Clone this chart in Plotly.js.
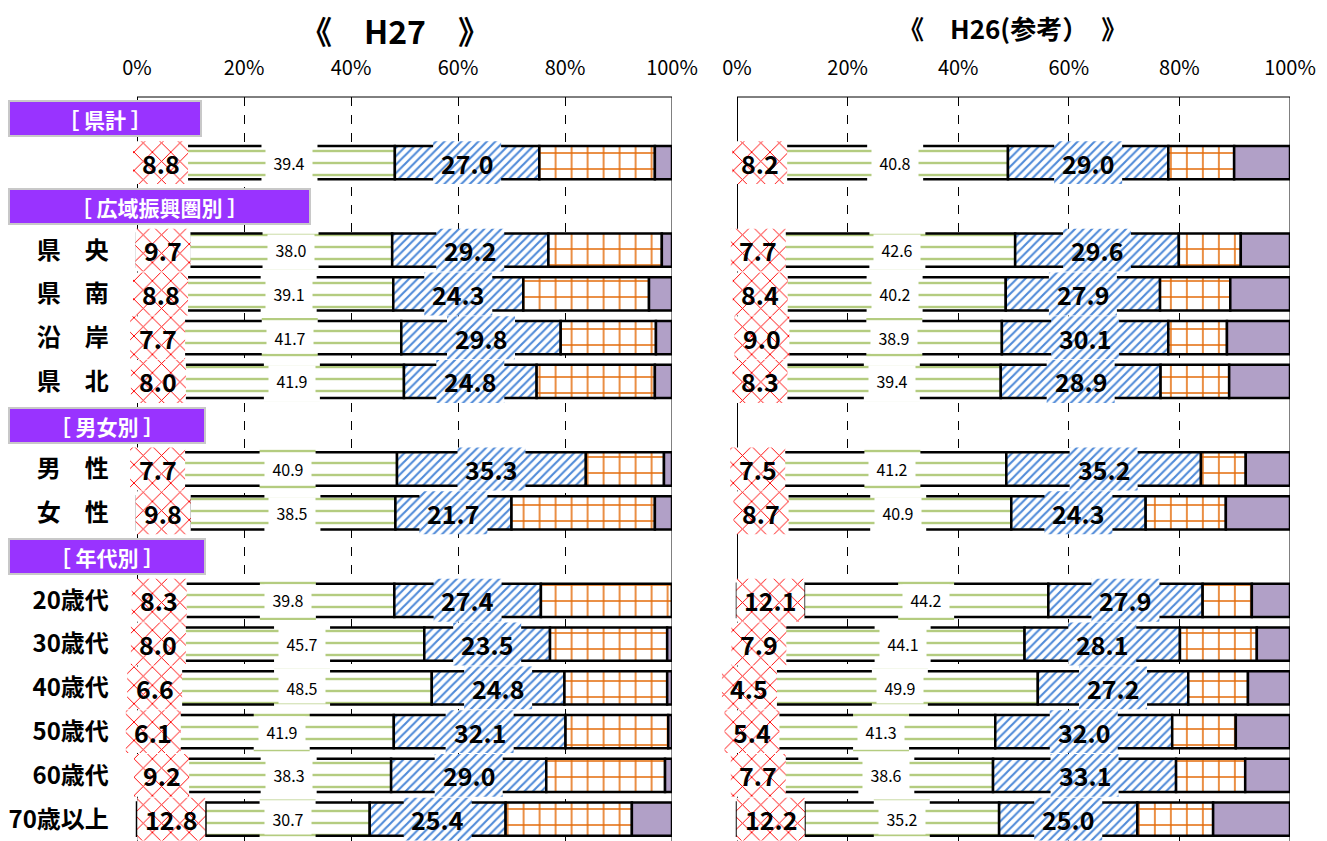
<!DOCTYPE html>
<html>
<head>
<meta charset="utf-8">
<script src="https://cdn.plot.ly/plotly-3.0.1.min.js"></script>
<style>
  body { margin: 0; background: #fff; }
  #chart { width: 1327px; height: 841px; }
</style>
</head>
<body>
<div id="chart"></div>
<script>
// row order (headers + data rows), top to bottom
const rows = ['［ 県計 ］', '県計', '［ 広域振興圏別 ］', '県　央', '県　南', '沿　岸', '県　北',
  '［ 男女別 ］', '男　性', '女　性', '［ 年代別 ］',
  '20歳代', '30歳代', '40歳代', '50歳代', '60歳代', '70歳以上'];
const headers = ['［ 県計 ］', '［ 広域振興圏別 ］', '［ 男女別 ］', '［ 年代別 ］'];
const dataRows = ['県計', '県　央', '県　南', '沿　岸', '県　北', '男　性', '女　性',
  '20歳代', '30歳代', '40歳代', '50歳代', '60歳代', '70歳以上'];
const tickRows = dataRows.slice(1);

// H27
const s1_27 = [8.8, 9.7, 8.8, 7.7, 8.0, 7.7, 9.8, 8.3, 8.0, 6.6, 6.1, 9.2, 12.8];
const s2_27 = [39.4, 38.0, 39.1, 41.7, 41.9, 40.9, 38.5, 39.8, 45.7, 48.5, 41.9, 38.3, 30.7];
const s3_27 = [27.0, 29.2, 24.3, 29.8, 24.8, 35.3, 21.7, 27.4, 23.5, 24.8, 32.1, 29.0, 25.4];
const s4_27 = [21.6, 21.2, 23.5, 17.8, 22.1, 14.6, 26.8, 24.5, 21.9, 19.2, 19.2, 22.2, 23.6];
const s5_27 = [3.2, 1.9, 4.3, 3.0, 3.2, 1.5, 3.2, 0.0, 0.9, 0.9, 0.7, 1.3, 7.5];

// H26 (参考)
const s1_26 = [8.2, 7.7, 8.4, 9.0, 8.3, 7.5, 8.7, 12.1, 7.9, 4.5, 5.4, 7.7, 12.2];
const s2_26 = [40.8, 42.6, 40.2, 38.9, 39.4, 41.2, 40.9, 44.2, 44.1, 49.9, 41.3, 38.6, 35.2];
const s3_26 = [29.0, 29.6, 27.9, 30.1, 28.9, 35.2, 24.3, 27.9, 28.1, 27.2, 32.0, 33.1, 25.0];
const s4_26 = [11.9, 11.2, 12.7, 10.6, 12.4, 8.1, 14.5, 8.9, 13.9, 10.8, 11.5, 12.5, 13.7];
const s5_26 = [10.1, 8.9, 10.8, 11.4, 11.0, 8.0, 11.6, 6.9, 6.0, 7.6, 9.8, 8.1, 13.9];

const patterns = [
  { shape: 'x', fgcolor: '#ff0000', bgcolor: '#fff', size: 13, solidity: 0.14 },
  { shape: '-', fgcolor: '#b4cc80', bgcolor: '#fff', size: 12, solidity: 0.2 },
  { shape: '/', fgcolor: '#4f8ad8', bgcolor: '#fff', size: 6, solidity: 0.35 },
  { shape: '+', fgcolor: '#e46c0a', bgcolor: '#fff', size: 16, solidity: 0.18 },
  null
];
const purple = '#b1a0c7';
const jp = 'Noto Sans CJK JP, sans-serif';
const XMIN = -4; // room left of 0% for the first label boxes

function starts(series, k) {
  const out = [];
  let s = 0;
  series.forEach(vals => { out.push(s); s += vals[k]; });
  return out;
}

// main stacked segments (bases from the cumulative values)
function makeBars(series, xa, ya) {
  return series.map((vals, i) => ({
    type: 'bar', orientation: 'h', x: vals, y: dataRows,
    base: dataRows.map((r, k) => starts(series, k)[i]),
    width: 0.76, xaxis: xa, yaxis: ya,
    marker: patterns[i]
      ? { color: '#fff', pattern: patterns[i], line: { color: '#000', width: 2.5 } }
      : { color: purple, line: { color: '#000', width: 2.5 } },
    showlegend: false, hoverinfo: 'skip'
  }));
}

// patterned boxes behind the value labels of the first three segments
function makeLabelBoxes(series, xa, ya, pxPerPct) {
  return [0, 1, 2].map(i => {
    const half = series[i].map(v => {
      const px = i === 1 ? 56 : 13 * v.toFixed(1).length + 16;
      return px / pxPerPct / 2;
    });
    return {
      type: 'bar', orientation: 'h', y: dataRows,
      x: half.map(h => 2 * h),
      base: dataRows.map((r, k) => starts(series, k)[i] + series[i][k] / 2 - half[k]),
      width: i === 1 ? 0.9 : 0.98, xaxis: xa, yaxis: ya,
      marker: { color: '#fff', pattern: patterns[i], line: { width: 0 } },
      showlegend: false, hoverinfo: 'skip'
    };
  });
}

function makeLabels(series, xref, yref) {
  const out = [];
  dataRows.forEach((r, k) => {
    const st = starts(series, k);
    for (let i = 0; i < 3; i++) {
      const v = series[i][k];
      const a = {
        x: st[i] + v / 2, y: r, xref: xref, yref: yref, showarrow: false,
        text: v.toFixed(1)
      };
      if (i === 1) {
        a.font = { family: jp, size: 16, color: '#000' };
        a.bgcolor = '#fff'; a.width = 46; a.height = 30; a.borderpad = 0;
      } else {
        a.font = { family: jp, size: 25, color: '#000', weight: 'bold' };
      }
      out.push(a);
    }
  });
  return out;
}

const series27 = [s1_27, s2_27, s3_27, s4_27, s5_27];
const series26 = [s1_26, s2_26, s3_26, s4_26, s5_26];

const ppp27 = 535 / 100, ppp26 = 553 / 100;
const traces = makeBars(series27, 'x', 'y')
  .concat(makeLabelBoxes(series27, 'x', 'y', ppp27))
  .concat(makeBars(series26, 'x2', 'y2'))
  .concat(makeLabelBoxes(series26, 'x2', 'y2', ppp26));

const headerWidths = [190, 299, 194, 194];
const headerAnns = headers.map((h, i) => ({
  x: 8 / 1327, xref: 'paper', xanchor: 'left', y: h, yref: 'y', showarrow: false,
  text: h, width: headerWidths[i], height: 33, borderpad: 0,
  bgcolor: '#9933ff', bordercolor: '#c8c8c8', borderwidth: 2,
  font: { family: jp, size: 21, color: '#fff', weight: 'bold' }
}));

const plotH = 841 - 97;
const titleAnns = [
  { text: '《　H27　》', x: 0.298, y: 30, size: 32 },
  { text: '《　H26(参考）　》', x: 0.763, y: 28, size: 26 }
].map(a => ({
  text: a.text, x: a.x, xref: 'paper', xanchor: 'center',
  y: 1 + (97 - a.y) / plotH, yref: 'paper', yanchor: 'middle', showarrow: false,
  font: { family: jp, size: a.size, color: '#000', weight: 'bold' }
}));

// frame: top and right edges (left edge is the zero line)
const frame = [];
[['x', 'y domain'], ['x2', 'y2 domain']].forEach(([xr, yr]) => {
  frame.push({ type: 'line', xref: xr, yref: yr, x0: 0, x1: 100, y0: 1, y1: 1,
    line: { color: '#000', width: 1 }, layer: 'below' });
  frame.push({ type: 'line', xref: xr, yref: yr, x0: 100, x1: 100, y0: 0, y1: 1,
    line: { color: '#000', width: 1 }, layer: 'below' });
});

const xBase = {
  range: [XMIN, 100], side: 'top', tickvals: [0, 20, 40, 60, 80, 100],
  ticktext: ['0%', '20%', '40%', '60%', '80%', '100%'],
  showgrid: true, gridcolor: '#000', griddash: 'dash', gridwidth: 1,
  showline: false, zeroline: true, zerolinecolor: '#000', zerolinewidth: 1,
  zerolinelayer: 'below traces',
  ticks: 'outside', ticklen: 13, tickcolor: 'rgba(0,0,0,0)',
  tickfont: { family: jp, size: 20, color: '#000' },
  fixedrange: true
};
const yBase = {
  type: 'category', categoryorder: 'array', categoryarray: rows,
  range: [rows.length - 0.5, -0.5], showgrid: false, zeroline: false,
  showline: false, fixedrange: true
};

const layout = {
  width: 1327, height: 841,
  margin: { l: 0, r: 0, t: 97, b: 0 },
  paper_bgcolor: '#fff', plot_bgcolor: 'rgba(0,0,0,0)',
  barmode: 'overlay',
  xaxis: Object.assign({}, xBase, { domain: [(137 + XMIN * ppp27) / 1327, 672 / 1327], anchor: 'y' }),
  xaxis2: Object.assign({}, xBase, { domain: [(737 + XMIN * ppp26) / 1327, 1290 / 1327], anchor: 'y2' }),
  yaxis: Object.assign({}, yBase, {
    anchor: 'x', tickvals: tickRows, ticktext: tickRows,
    ticks: 'outside', ticklen: 1, tickcolor: 'rgba(0,0,0,0)',
    tickfont: { family: jp, size: 24, color: '#000', weight: 'bold' }
  }),
  yaxis2: Object.assign({}, yBase, { anchor: 'x2', showticklabels: false }),
  shapes: frame,
  annotations: makeLabels(series27, 'x', 'y')
    .concat(makeLabels(series26, 'x2', 'y2'))
    .concat(headerAnns)
    .concat(titleAnns)
};

Plotly.newPlot('chart', traces, layout, { displayModeBar: false, staticPlot: true });
</script>
</body>
</html>
